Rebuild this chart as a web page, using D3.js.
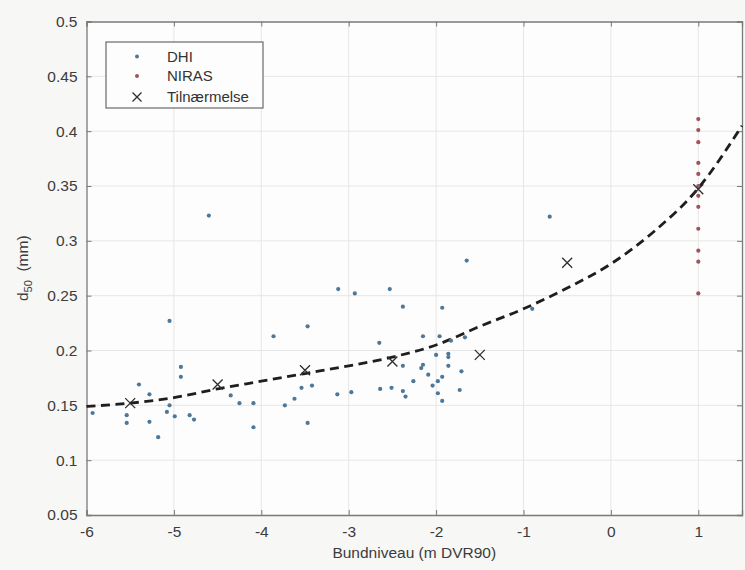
<!DOCTYPE html>
<html>
<head>
<meta charset="utf-8">
<script src="https://cdn.jsdelivr.net/npm/d3@7"></script>
<style>
  body { margin: 0; background: #f7f7f6; }
  svg { display: block; font-family: "Liberation Sans", Arial, sans-serif; }
</style>
</head>
<body>
<svg id="chart"></svg>
<script>
// DHI measurements (x = bundniveau, y = d50)
const dhiX = [-5.93, -5.54, -5.54, -5.40, -5.28, -5.28, -5.18, -5.05, -4.92, -4.92,
  -5.05, -5.08, -4.99, -4.82, -4.77, -3.86, -4.35, -4.25, -4.09, -4.09,
  -3.73, -3.62, -4.60, -0.70, -0.90, -1.65, -3.12, -2.93, -2.53, -2.38,
  -1.93, -3.47, -2.65, -2.15, -1.96, -1.83, -1.67, -2.00, -1.86, -1.86,
  -1.86, -2.38, -2.15, -2.17, -2.09, -1.93, -1.98, -2.26, -2.04, -1.71,
  -1.73, -2.64, -2.51, -2.38, -2.35, -1.98, -1.93, -3.13, -2.97, -3.54,
  -3.42, -3.47];
const dhiY = [0.143, 0.141, 0.134, 0.169, 0.160, 0.135, 0.121, 0.227, 0.185, 0.176,
  0.150, 0.144, 0.140, 0.141, 0.137, 0.213, 0.159, 0.152, 0.152, 0.130,
  0.150, 0.156, 0.323, 0.322, 0.238, 0.282, 0.256, 0.252, 0.256, 0.240,
  0.239, 0.222, 0.207, 0.213, 0.213, 0.209, 0.212, 0.196, 0.197, 0.194,
  0.186, 0.186, 0.187, 0.184, 0.178, 0.176, 0.172, 0.172, 0.168, 0.181,
  0.164, 0.165, 0.166, 0.163, 0.158, 0.161, 0.154, 0.160, 0.162, 0.166,
  0.168, 0.134];

// NIRAS measurements, all at bundniveau 1
const nirasX = [1, 1, 1, 1, 1, 1, 1, 1, 1, 1, 1, 1];
const nirasY = [0.411, 0.401, 0.390, 0.371, 0.361, 0.350, 0.341, 0.331, 0.311, 0.291, 0.281, 0.252];

// Tilnærmelse (crosses)
const approxX = [-5.5, -4.5, -3.5, -2.5, -1.5, -0.5, 1];
const approxY = [0.152, 0.169, 0.182, 0.190, 0.196, 0.280, 0.347];

// fitted curve (dashed)
const fitX = [-6, -5.5, -5, -4.5, -4, -3.5, -3, -2.5, -2, -1.5, -1, -0.5, 0, 0.5, 1, 1.5];
const fitY = [0.149, 0.152, 0.157, 0.165, 0.172, 0.179, 0.186, 0.194, 0.205, 0.222, 0.238, 0.257, 0.279, 0.309, 0.348, 0.405];

const xTicks = [-6, -5, -4, -3, -2, -1, 0, 1];
const yTicks = [0.05, 0.1, 0.15, 0.2, 0.25, 0.3, 0.35, 0.4, 0.45, 0.5];
const legendLabels = ["DHI", "NIRAS", "Tilnærmelse"];

const W = 745, H = 570;
const margin = { top: 21.5, right: 3, bottom: 55, left: 86.5 };
const width = W - margin.left - margin.right;
const height = H - margin.top - margin.bottom;

const svgRoot = d3.select("#chart").attr("width", W).attr("height", H);
const svg = svgRoot.append("g")
  .attr("transform", `translate(${margin.left},${margin.top})`);

const x = d3.scaleLinear().domain([-6, 1.5]).range([0, width]);
const y = d3.scaleLinear().domain([0.05, 0.5]).range([height, 0]);

const axisColor = "#7a7a7a";
const textColor = "#3c3c3c";
const fontSize = 15.5;

svg.append("rect")
  .attr("width", width).attr("height", height)
  .attr("fill", "#fdfdfd");

// grid
svg.append("g").selectAll("line").data(xTicks.slice(1)).enter().append("line")
  .attr("x1", d => x(d)).attr("x2", d => x(d))
  .attr("y1", 0).attr("y2", height)
  .attr("stroke", "#e6e6e6").attr("stroke-width", 1);
svg.append("g").selectAll("line").data(yTicks.slice(1, -1)).enter().append("line")
  .attr("x1", 0).attr("x2", width)
  .attr("y1", d => y(d)).attr("y2", d => y(d))
  .attr("stroke", "#e6e6e6").attr("stroke-width", 1);

// axes (inward ticks, boxed like matlab)
const xAxis = svg.append("g")
  .attr("transform", `translate(0,${height})`)
  .call(d3.axisBottom(x).tickValues(xTicks).tickSize(-5).tickPadding(11)
    .tickFormat(d => d));
const xTop = svg.append("g")
  .call(d3.axisTop(x).tickValues(xTicks).tickSize(-5).tickFormat(""));
const yAxis = svg.append("g")
  .call(d3.axisLeft(y).tickValues(yTicks).tickSize(-5).tickPadding(9)
    .tickFormat(d => d3.format("")(+d.toFixed(2))));
const yRight = svg.append("g")
  .attr("transform", `translate(${width},0)`)
  .call(d3.axisRight(y).tickValues(yTicks).tickSize(-5).tickFormat(""));

[xAxis, xTop, yAxis, yRight].forEach(g => {
  g.select(".domain").attr("stroke", axisColor).attr("stroke-width", 1.3);
  g.selectAll(".tick line").attr("stroke", axisColor);
  g.selectAll("text").attr("fill", textColor)
    .attr("font-size", fontSize).attr("font-family", "Liberation Sans, Arial, sans-serif");
});

// dashed fit line
const fitData = fitX.map((v, i) => [v, fitY[i]]);
svg.append("path")
  .datum(fitData)
  .attr("fill", "none")
  .attr("stroke", "#1e1e1e")
  .attr("stroke-width", 2.8)
  .attr("stroke-dasharray", "9,5.5")
  .attr("d", d3.line().x(d => x(d[0])).y(d => y(d[1])).curve(d3.curveMonotoneX));

// points
const dhiColor = "#4d7899";
const nirasColor = "#a2535a";

svg.append("g").selectAll("circle")
  .data(dhiX.map((v, i) => [v, dhiY[i]]))
  .enter().append("circle")
  .attr("cx", d => x(d[0])).attr("cy", d => y(d[1]))
  .attr("r", 2.1).attr("fill", dhiColor);

svg.append("g").selectAll("circle")
  .data(nirasX.map((v, i) => [v, nirasY[i]]))
  .enter().append("circle")
  .attr("cx", d => x(d[0])).attr("cy", d => y(d[1]))
  .attr("r", 2.1).attr("fill", nirasColor);

const cross = (g, cx, cy, s) => {
  g.append("path")
    .attr("d", `M${cx - s},${cy - s}L${cx + s},${cy + s}M${cx - s},${cy + s}L${cx + s},${cy - s}`)
    .attr("stroke", "#2e2e2e").attr("stroke-width", 1.3).attr("fill", "none");
};
const crosses = svg.append("g");
approxX.forEach((v, i) => cross(crosses, x(v), y(approxY[i]), 5));

// axis labels
svg.append("text")
  .attr("x", width / 2).attr("y", height + 43)
  .attr("text-anchor", "middle")
  .attr("fill", textColor).attr("font-size", fontSize)
  .text("Bundniveau (m DVR90)");

const yl = svg.append("text")
  .attr("transform", `translate(${-59},${height / 2}) rotate(-90)`)
  .attr("text-anchor", "middle")
  .attr("fill", textColor).attr("font-size", fontSize);
yl.append("tspan").text("d");
yl.append("tspan").attr("font-size", 11).attr("dy", 4).text("50");
yl.append("tspan").attr("dy", -4).text("\u00a0\u00a0(mm)");

// legend
const lg = svg.append("g").attr("transform", `translate(${106 - margin.left},${42 - margin.top})`);
lg.append("rect")
  .attr("width", 157).attr("height", 66)
  .attr("fill", "#fdfdfd").attr("stroke", "#6a6a6a").attr("stroke-width", 1.2);
const rows = [14.5, 34, 55];
lg.append("circle").attr("cx", 31).attr("cy", rows[0]).attr("r", 2).attr("fill", dhiColor);
lg.append("circle").attr("cx", 31).attr("cy", rows[1]).attr("r", 2).attr("fill", nirasColor);
cross(lg, 31, rows[2], 4.5);
legendLabels.forEach((t, i) => {
  lg.append("text")
    .attr("x", 61).attr("y", rows[i]).attr("dy", "0.35em")
    .attr("fill", "#333").attr("font-size", 15)
    .text(t);
});
</script>
</body>
</html>
